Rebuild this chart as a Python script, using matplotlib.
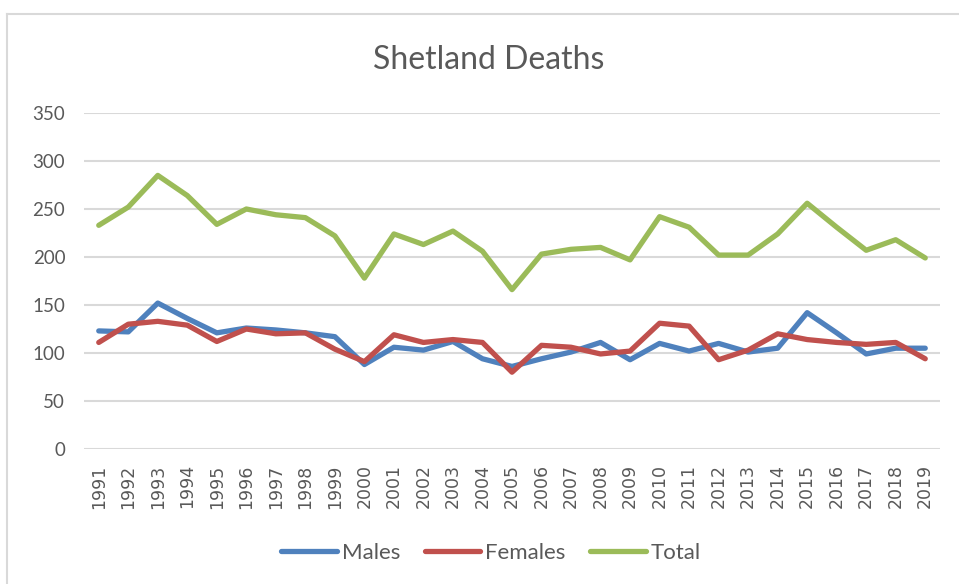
import matplotlib
matplotlib.use("Agg")
import matplotlib.pyplot as plt
from matplotlib.lines import Line2D

years = [str(y) for y in range(1991, 2020)]
males = [123, 122, 152, 136, 121, 126, 124, 121, 117, 88,
         106, 103, 112, 94, 86, 94, 101, 111, 93, 110,
         102, 110, 101, 105, 142, 121, 99, 105, 105]
females = [111, 130, 133, 129, 112, 125, 120, 121, 104, 91,
           119, 111, 114, 111, 80, 108, 106, 99, 102, 131,
           128, 93, 103, 120, 114, 111, 109, 111, 94]
total = [233, 252, 285, 264, 234, 250, 244, 241, 222, 178,
         224, 213, 227, 206, 166, 203, 208, 210, 197, 242,
         231, 202, 202, 224, 256, 231, 207, 218, 199]
yticks = [0, 50, 100, 150, 200, 250, 300, 350]

FONT = ["Lato", "DejaVu Sans"]
plt.rcParams['font.family'] = FONT
TXT = "#595959"

W, H = 959, 584
fig = plt.figure(figsize=(W / 100, H / 100), dpi=100)

# outer chart border (top and left visible)
fig.add_artist(Line2D([7 / W, 1], [1 - 14 / H, 1 - 14 / H], color="#D9D9D9", lw=1.5, transform=fig.transFigure))
fig.add_artist(Line2D([7 / W, 7 / W], [0, 1 - 14 / H], color="#D9D9D9", lw=1.5, transform=fig.transFigure))

ax = fig.add_axes([84 / W, 1 - 449 / H, (940 - 84) / W, (449 - 113) / H])
x = list(range(len(years)))
ax.plot(x, males, color="#4F81BD", lw=3.8, label="Males", solid_joinstyle="round", solid_capstyle="round")
ax.plot(x, females, color="#C0504D", lw=3.8, label="Females", solid_joinstyle="round", solid_capstyle="round")
ax.plot(x, total, color="#9BBB59", lw=3.8, label="Total", solid_joinstyle="round", solid_capstyle="round")

ax.set_xlim(-0.5, len(years) - 0.5)
ax.set_ylim(0, 350)
ax.set_yticks(yticks)
ax.set_yticklabels([str(v) for v in yticks], fontsize=13.5)
ax.set_xticks(x)
ax.set_xticklabels(years, rotation=90, fontsize=12.5, family=["DejaVu Sans"])
ax.tick_params(axis="both", length=0, labelcolor=TXT)
ax.tick_params(axis="y", pad=13.5)
ax.tick_params(axis="x", pad=11)
for s in ax.spines.values():
    s.set_visible(False)
ax.grid(axis="y", color="#D9D9D9", lw=1.5)
ax.set_axisbelow(True)

fig.text(489 / W, 1 - 60 / H, "Shetland Deaths", ha="center", va="center", fontsize=23, color=TXT)

fig.legend(loc="center", bbox_to_anchor=(491 / W, 1 - 553 / H), ncol=3, frameon=False,
           fontsize=16, handlelength=2.5, handletextpad=0.22, columnspacing=1.1,
           labelcolor=TXT)

fig.savefig("out.png", dpi=100)
